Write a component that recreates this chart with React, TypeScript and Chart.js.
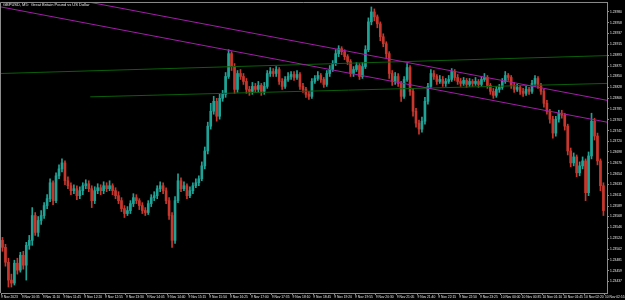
import React, { useEffect, useRef } from "react";
import { Chart, registerables } from "chart.js";

Chart.register(...registerables);

const TITLE = "GBPUSD, M5:  Great Britain Pound vs US Dollar";

const firstOpen = 1.2352;

const closes = [
  1.23506, 1.23476, 1.2344, 1.23434, 1.23474, 1.2346, 1.2349, 1.2347, 1.2351, 1.2352,
  1.2357, 1.23536, 1.2356, 1.2357, 1.2359, 1.23604, 1.23636, 1.236, 1.2365, 1.23664,
  1.23676, 1.2364, 1.2363, 1.2362, 1.23624, 1.2361, 1.2362, 1.2363, 1.23634, 1.23624,
  1.236, 1.2362, 1.23626, 1.2362, 1.2363, 1.23624, 1.2363, 1.2362, 1.2361, 1.236,
  1.23584, 1.23574, 1.2358, 1.23594, 1.23606, 1.236, 1.2359, 1.2358, 1.23576, 1.23594,
  1.23606, 1.2361, 1.23624, 1.2363, 1.2362, 1.236, 1.2357, 1.2352, 1.236, 1.2364,
  1.23624, 1.2363, 1.2361, 1.2362, 1.2363, 1.23636, 1.23644, 1.2367, 1.237, 1.2375,
  1.2378, 1.238, 1.2377, 1.23806, 1.23814, 1.2385, 1.23896, 1.2387, 1.23824, 1.23856,
  1.2385, 1.2384, 1.23824, 1.2382, 1.2383, 1.23824, 1.23832, 1.2382, 1.2383, 1.23856,
  1.2386, 1.23856, 1.23864, 1.2384, 1.2383, 1.23844, 1.2385, 1.23854, 1.23848, 1.23854,
  1.2383, 1.23824, 1.23814, 1.2381, 1.2384, 1.23846, 1.23852, 1.23844, 1.23834, 1.23856,
  1.23864, 1.23876, 1.23896, 1.23906, 1.239, 1.2389, 1.2388, 1.23856, 1.23864, 1.23872,
  1.2385, 1.2387, 1.23904, 1.2396, 1.2398, 1.2397, 1.23956, 1.2393, 1.23916, 1.23896,
  1.23856, 1.2384, 1.2385, 1.23836, 1.2381, 1.23844, 1.23868, 1.2382, 1.2378, 1.23756,
  1.23744, 1.2376, 1.238, 1.2383, 1.23856, 1.2385, 1.2384, 1.23844, 1.23836, 1.2384,
  1.23844, 1.2386, 1.23848, 1.2384, 1.23836, 1.23842, 1.23834, 1.2384, 1.23836, 1.2384,
  1.23834, 1.23844, 1.23848, 1.23832, 1.2382, 1.23812, 1.23824, 1.23828, 1.2384, 1.23852,
  1.23848, 1.23832, 1.23824, 1.23828, 1.2382, 1.23816, 1.23824, 1.2382, 1.23836, 1.23846,
  1.23832, 1.2382, 1.23796, 1.2378, 1.23764, 1.23736, 1.23764, 1.23776, 1.23772, 1.2375,
  1.237, 1.23676, 1.23688, 1.23656, 1.2367, 1.2368, 1.23616, 1.2369, 1.2376, 1.2373,
  1.2368, 1.2363, 1.2358,
];

const highs = [
  1.23526, 1.23512, 1.23484, 1.23452, 1.2348, 1.23484, 1.23496, 1.23498, 1.23516, 1.2353,
  1.23586, 1.23576, 1.23568, 1.2358, 1.23596, 1.23612, 1.23644, 1.2364, 1.23656, 1.23672,
  1.23684, 1.2368, 1.23648, 1.23636, 1.23632, 1.2363, 1.23628, 1.23636, 1.23642, 1.2364,
  1.2363, 1.23628, 1.23634, 1.23632, 1.23638, 1.23636, 1.2364, 1.23634, 1.23626, 1.23618,
  1.23606, 1.2359, 1.23588, 1.236, 1.23614, 1.23612, 1.23604, 1.23596, 1.23586, 1.236,
  1.23612, 1.23618, 1.2363, 1.23638, 1.23636, 1.23626, 1.23606, 1.23576, 1.23608, 1.23654,
  1.23646, 1.23638, 1.23634, 1.23628, 1.23636, 1.23644, 1.2365, 1.23678, 1.23708, 1.23758,
  1.23796, 1.2381, 1.23806, 1.23814, 1.23822, 1.23858, 1.23904, 1.239, 1.23876, 1.23862,
  1.23864, 1.23856, 1.23846, 1.2383, 1.23838, 1.23836, 1.2384, 1.23836, 1.23838, 1.23862,
  1.23868, 1.23866, 1.2387, 1.23868, 1.23846, 1.2385, 1.23858, 1.2386, 1.2386, 1.23862,
  1.23858, 1.23836, 1.23828, 1.2382, 1.23846, 1.23852, 1.2386, 1.23856, 1.23848, 1.23862,
  1.23872, 1.23882, 1.23904, 1.23912, 1.2391, 1.23904, 1.23894, 1.23884, 1.2387, 1.23878,
  1.23876, 1.23878, 1.23912, 1.23968, 1.2399, 1.23986, 1.23974, 1.2396, 1.23936, 1.2392,
  1.239, 1.23862, 1.23858, 1.23856, 1.2384, 1.2385, 1.23876, 1.23872, 1.23826, 1.23786,
  1.23762, 1.23768, 1.23808, 1.23836, 1.23864, 1.23862, 1.23854, 1.23852, 1.2385, 1.23846,
  1.23852, 1.23866, 1.23864, 1.23854, 1.23846, 1.23848, 1.23846, 1.23846, 1.23844, 1.23848,
  1.23844, 1.2385, 1.23856, 1.23852, 1.23836, 1.23826, 1.2383, 1.23834, 1.23846, 1.2386,
  1.23856, 1.23852, 1.23838, 1.23834, 1.23832, 1.23826, 1.2383, 1.23828, 1.23842, 1.23852,
  1.2385, 1.23836, 1.23824, 1.23802, 1.23784, 1.2377, 1.2377, 1.23782, 1.23782, 1.23776,
  1.23754, 1.23706, 1.23696, 1.23692, 1.23678, 1.23688, 1.23684, 1.23698, 1.23776, 1.23766,
  1.23736, 1.23684, 1.23636,
];

const lows = [
  1.23498, 1.23468, 1.23426, 1.23426, 1.2343, 1.23452, 1.23456, 1.23462, 1.2344, 1.23502,
  1.2351, 1.2353, 1.23528, 1.23552, 1.23564, 1.23584, 1.23598, 1.23592, 1.23596, 1.23644,
  1.23658, 1.23632, 1.23624, 1.23612, 1.23614, 1.23602, 1.23604, 1.23612, 1.23624, 1.23618,
  1.23586, 1.23594, 1.23614, 1.23612, 1.23614, 1.23618, 1.2362, 1.23612, 1.23604, 1.23594,
  1.23578, 1.23566, 1.2357, 1.23574, 1.23588, 1.23594, 1.23582, 1.23574, 1.2357, 1.23572,
  1.23588, 1.236, 1.23604, 1.23618, 1.23614, 1.23594, 1.23562, 1.23506, 1.23514, 1.23596,
  1.23618, 1.2362, 1.23604, 1.23606, 1.23614, 1.23626, 1.2363, 1.2364, 1.23664, 1.23694,
  1.23744, 1.23774, 1.2376, 1.23764, 1.238, 1.23808, 1.23846, 1.23862, 1.23816, 1.23818,
  1.23844, 1.23834, 1.23816, 1.23812, 1.23814, 1.23818, 1.23818, 1.23812, 1.23814, 1.23826,
  1.2385, 1.2385, 1.2385, 1.23834, 1.23824, 1.23826, 1.2384, 1.23844, 1.23842, 1.23844,
  1.23824, 1.23818, 1.23808, 1.23804, 1.23806, 1.23836, 1.23842, 1.23838, 1.23828, 1.2383,
  1.2385, 1.2386, 1.23872, 1.2389, 1.23894, 1.23884, 1.23874, 1.2385, 1.2385, 1.2386,
  1.23844, 1.23846, 1.23866, 1.239, 1.23954, 1.23962, 1.23948, 1.23922, 1.2391, 1.23888,
  1.23846, 1.23832, 1.23834, 1.2383, 1.238, 1.23806, 1.2384, 1.23812, 1.2377, 1.23748,
  1.23734, 1.23738, 1.23754, 1.23794, 1.23826, 1.23844, 1.23834, 1.23836, 1.2383, 1.2383,
  1.23836, 1.2384, 1.23842, 1.23834, 1.2383, 1.23832, 1.23828, 1.2383, 1.2383, 1.23832,
  1.23828, 1.2383, 1.2384, 1.23826, 1.23814, 1.23806, 1.23808, 1.23818, 1.23824, 1.23836,
  1.23842, 1.23826, 1.23818, 1.2382, 1.23814, 1.2381, 1.23812, 1.23814, 1.23816, 1.2383,
  1.23826, 1.23814, 1.23788, 1.23774, 1.23756, 1.23726, 1.2373, 1.23758, 1.23766, 1.23742,
  1.23692, 1.23668, 1.2367, 1.23648, 1.2365, 1.23664, 1.236, 1.2361, 1.23684, 1.23722,
  1.23672, 1.2362, 1.2357,
];

const yTickValues = [
  1.2398, 1.23958, 1.23937, 1.23915, 1.23893, 1.23871, 1.2385, 1.23828, 1.23806, 1.23785,
  1.23763, 1.23741, 1.2372, 1.23698, 1.23676, 1.23654, 1.23633, 1.23611, 1.23589, 1.23568,
  1.23546, 1.23524, 1.23502, 1.23481, 1.23459, 1.23437,
];

const xTickLabels = [
  "9 Nov 2023", "9 Nov 10:35", "9 Nov 11:10", "9 Nov 11:45", "9 Nov 12:20", "9 Nov 12:55",
  "9 Nov 13:30", "9 Nov 14:05", "9 Nov 14:40", "9 Nov 15:15", "9 Nov 15:50", "9 Nov 16:25",
  "9 Nov 17:00", "9 Nov 17:35", "9 Nov 18:10", "9 Nov 18:45", "9 Nov 19:20", "9 Nov 19:55",
  "9 Nov 20:30", "9 Nov 21:05", "9 Nov 21:40", "9 Nov 22:15", "9 Nov 22:50", "9 Nov 23:25",
  "10 Nov 00:00", "10 Nov 00:35", "10 Nov 01:10", "10 Nov 01:45", "10 Nov 02:20", "10 Nov 02:55",
];
const barsPerLabel = 7;

// trend lines: [barIndex, price] endpoints
const magentaUpper = [[28.8, 1.24], [203.2, 1.23802]];
const magentaLower = [[-0.5, 1.2399], [203.2, 1.23758]];
const greenUpper = [[-0.5, 1.23856], [203.2, 1.23892]];
const greenLower = [[29.5, 1.23809], [203.2, 1.23836]];

const BULL = "#1fa396";
const BEAR = "#c8372d";
const DOJI = "#8a8a8a";
const MAGENTA = "#a21ca8";
const GREEN = "#0b5f0b";
const AXIS = "#8c8c8c";
const TEXT = "#e6e6e6";

export default function App() {
  const ref = useRef<HTMLCanvasElement | null>(null);

  useEffect(() => {
    document.body.style.margin = "0";
    document.body.style.background = "#000";
    const canvas = ref.current;
    if (!canvas) return;

    const opens = closes.map((c, i) => (i === 0 ? firstOpen : closes[i - 1]));
    const colors = closes.map((c, i) =>
      c > opens[i] ? BULL : c < opens[i] ? BEAR : DOJI
    );
    const N = closes.length;

    const lineDs = (pts: number[][], color: string) => ({
      type: "line" as const,
      data: pts.map((p) => ({ x: p[0], y: p[1] })),
      borderColor: color,
      borderWidth: 1,
      pointRadius: 0,
      tension: 0,
      order: 0,
    });

    const bgPlugin = {
      id: "mtbg",
      beforeDraw(chart: any) {
        const { ctx, width, height } = chart;
        ctx.save();
        ctx.fillStyle = "#000";
        ctx.fillRect(0, 0, width, height);
        ctx.restore();
      },
      afterDraw(chart: any) {
        const { ctx, chartArea } = chart;
        ctx.save();
        ctx.strokeStyle = AXIS;
        ctx.lineWidth = 1;
        ctx.beginPath();
        ctx.moveTo(chartArea.left - 0.5, chartArea.bottom);
        ctx.lineTo(chartArea.left - 0.5, chartArea.top - 0.5);
        ctx.lineTo(chartArea.right, chartArea.top - 0.5);
        ctx.stroke();
        ctx.fillStyle = TEXT;
        ctx.font = "4px 'Liberation Sans', Arial, sans-serif";
        ctx.textBaseline = "top";
        ctx.fillText(TITLE, 3, 3);
        ctx.restore();
      },
    };

    const chart = new Chart(canvas, {
      type: "bar",
      data: {
        datasets: [
          lineDs(magentaUpper, MAGENTA),
          lineDs(magentaLower, MAGENTA),
          lineDs(greenUpper, GREEN),
          lineDs(greenLower, GREEN),
          {
            type: "bar",
            data: closes.map((c, i) => ({ x: i, y: [lows[i], highs[i]] })),
            backgroundColor: colors,
            barThickness: 1,
            grouped: false,
            order: 2,
          } as any,
          {
            type: "bar",
            data: closes.map((c, i) => ({ x: i, y: [opens[i], c] })),
            backgroundColor: colors,
            barThickness: 2,
            minBarLength: 1,
            grouped: false,
            order: 1,
          } as any,
        ],
      },
      options: {
        responsive: false,
        animation: false,
        events: [],
        layout: { padding: { left: 1, top: 1, right: 0, bottom: 0 } },
        plugins: {
          legend: { display: false },
          tooltip: { enabled: false },
          title: { display: false },
        },
        scales: {
          x: {
            type: "linear",
            position: "bottom",
            min: -0.5,
            max: N + 0.2,
            offset: false,
            grid: {
              display: true,
              drawOnChartArea: false,
              drawTicks: true,
              tickLength: 2,
              color: AXIS,
              offset: false,
            },
            border: { display: true, color: AXIS },
            afterBuildTicks: (scale: any) => {
              scale.ticks = xTickLabels.map((_, k) => ({ value: k * barsPerLabel - 0.5 }));
            },
            afterFit: (scale: any) => {
              scale.height = 7;
            },
            ticks: {
              autoSkip: false,
              maxRotation: 0,
              minRotation: 0,
              align: "start",
              padding: 0,
              color: TEXT,
              font: { size: 3.3, family: "'Liberation Sans', Arial, sans-serif" },
              callback: (_v: any, idx: number) => xTickLabels[idx] ?? "",
            },
          } as any,
          y: {
            type: "linear",
            position: "right",
            min: 1.23414,
            max: 1.23998,
            grid: {
              display: true,
              drawOnChartArea: false,
              drawTicks: true,
              tickLength: 2,
              color: AXIS,
            },
            border: { display: true, color: AXIS },
            afterBuildTicks: (scale: any) => {
              scale.ticks = yTickValues.map((v) => ({ value: v }));
            },
            afterFit: (scale: any) => {
              scale.width = 18;
            },
            ticks: {
              autoSkip: false,
              padding: 1,
              color: TEXT,
              font: { size: 3.3, family: "'Liberation Sans', Arial, sans-serif" },
              callback: (v: any) => Number(v).toFixed(5),
            },
          } as any,
        },
      },
      plugins: [bgPlugin],
    } as any);

    return () => chart.destroy();
  }, []);

  return (
    <canvas
      ref={ref}
      width={625}
      height={300}
      style={{ display: "block", width: 625, height: 300 }}
    />
  );
}
